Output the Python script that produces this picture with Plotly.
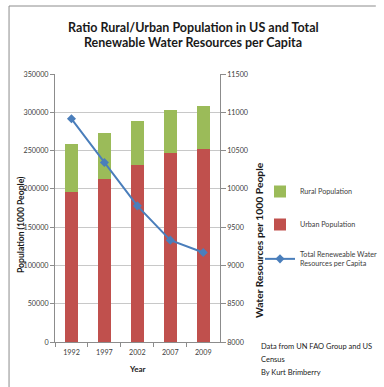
import plotly.graph_objects as go

years = ["1992", "1997", "2002", "2007", "2009"]
urban = [196500, 213100, 231000, 246700, 252300]
rural = [62200, 59800, 57600, 55700, 55800]
water = [10915, 10344, 9778, 9330, 9168]

title_lines = ["Ratio Rural/Urban Population in US and Total",
               "Renewable Water Resources per Capita"]
note_lines = ["Data from UN FAO Group and US", "Census", "By Kurt Brimberry"]

FONT = "Lato"
TXT = "#404040"
DARK = "#1a1a1a"
GRID = "#C8C8C8"
AX = "#8C8C8C"

# plot area in pixels
L, R, T, B = 55, 227, 74, 342
W, H = 384, 387
def px(x):
    return (x - L) / (R - L)
def py(y):
    return (B - y) / (B - T)

fig = go.Figure()
fig.add_trace(go.Bar(x=years, y=urban, name="Urban Population", marker_color="#C0504D",
                     marker_line_width=0, width=0.4, legendrank=2, legendgroup="u"))
fig.add_trace(go.Bar(x=years, y=rural, name="Rural Population", marker_color="#9BBB59",
                     marker_line_width=0, width=0.4, legendrank=1, legendgroup="r"))
fig.add_trace(go.Scatter(x=years, y=water, yaxis="y2", mode="lines+markers",
                         name="Total Reneweable Water<br>Resources per Capita",
                         line=dict(color="#4A7EBB", width=2),
                         marker=dict(symbol="diamond", size=7, color="#4A7EBB"),
                         legendrank=3, legendgroup="w"))

TICKF = dict(size=7.2, color=TXT)
fig.update_layout(
    width=W, height=H, autosize=False,
    margin=dict(l=L, r=W - R, t=T, b=H - B, pad=0),
    paper_bgcolor="white", plot_bgcolor="white",
    barmode="stack",
    font=dict(family=FONT, size=7, color=TXT),
    xaxis=dict(type="category", showline=True, linecolor=AX, linewidth=1, ticks="outside",
               tickson="boundaries", ticklen=4, tickcolor=AX, showgrid=False, tickfont=TICKF,
               ticklabelstandoff=3),
    yaxis=dict(range=[0, 350000], dtick=50000, tickformat="d", showline=True, linecolor=AX, linewidth=1,
               ticks="outside", ticklen=4, tickcolor=AX, showgrid=True, gridcolor=GRID,
               gridwidth=1, zeroline=False, tickfont=TICKF),
    yaxis2=dict(range=[8000, 11500], dtick=500, tickformat="d", overlaying="y", side="right", showline=True,
                linecolor=AX, linewidth=1, ticks="outside", ticklen=5, tickcolor=AX,
                showgrid=False, zeroline=False, tickfont=TICKF),
    legend=dict(xref="container", yref="container", x=260 / W, xanchor="left",
                y=1 - 177 / H, yanchor="top", traceorder="grouped", tracegroupgap=14,
                font=dict(size=7.2, color=TXT), bgcolor="rgba(0,0,0,0)", itemwidth=30),
    showlegend=True,
)

ann = [
    dict(text=title_lines[0], x=px(199.5), y=py(27), font=dict(size=12.5, color=DARK, weight="bold")),
    dict(text=title_lines[1], x=px(199.5), y=py(42), font=dict(size=12.5, color=DARK, weight="bold")),
    dict(text="<b>Population (1000 People)</b>", x=px(19.5), y=py(225), textangle=-90,
         font=dict(size=8.6, color=DARK)),
    dict(text="<b>Water Resources per 1000 People</b>", x=px(268), y=py(240), textangle=-90,
         font=dict(size=10.3, color=DARK)),
    dict(text="<b>Year</b>", x=px(141), y=py(369), font=dict(size=8, color=DARK)),
]
for i, line in enumerate(note_lines):
    ann.append(dict(text=line, x=px(268), y=py(347 + 12.5 * i), xanchor="left", align="left",
                    font=dict(size=7.5, color=DARK)))
for a in ann:
    a.setdefault("xanchor", "center")
    a.setdefault("yanchor", "middle")
    a.update(xref="paper", yref="paper", showarrow=False)
fig.update_layout(annotations=ann)

fig.update_layout(shapes=[
    dict(type="line", xref="paper", yref="paper", x0=px(7), x1=px(7), y0=py(390), y1=py(6),
         line=dict(color="#8C8C8C", width=1)),
    dict(type="line", xref="paper", yref="paper", x0=px(7), x1=px(390), y0=py(6), y1=py(6),
         line=dict(color="#8C8C8C", width=1)),
])

fig.write_html("out.html")
